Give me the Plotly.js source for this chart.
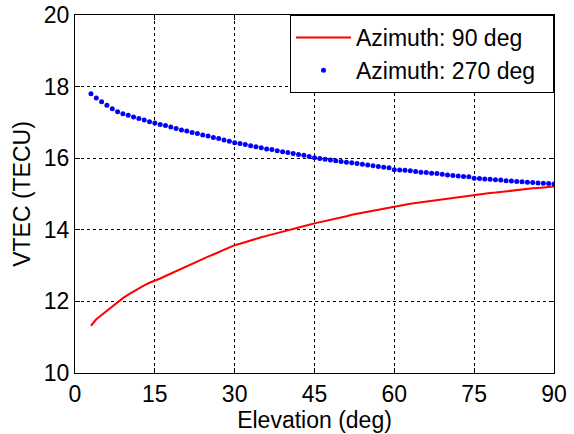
<!DOCTYPE html>
<html>
<head>
<meta charset="utf-8">
<script src="https://cdn.plot.ly/plotly-3.0.1.min.js"></script>
<style>html,body{margin:0;padding:0;background:#fff;}#chart{width:574px;height:434px;}</style>
</head>
<body>
<div id="chart"></div>
<script>
const elevation = [3,4,5,6,7,8,9,10,11,12,13,14,15,16,17,18,19,20,21,22,23,24,25,26,27,28,29,30,31,32,33,34,35,36,37,38,39,40,41,42,43,44,45,46,47,48,49,50,51,52,53,54,55,56,57,58,59,60,61,62,63,64,65,66,67,68,69,70,71,72,73,74,75,76,77,78,79,80,81,82,83,84,85,86,87,88,89,90];
const vtecAz90 = [11.32,11.50,11.62,11.74,11.86,11.98,12.09,12.19,12.28,12.37,12.45,12.52,12.57,12.64,12.71,12.78,12.85,12.92,12.99,13.06,13.12,13.19,13.25,13.31,13.38,13.45,13.51,13.57,13.61,13.66,13.70,13.74,13.79,13.83,13.87,13.92,13.96,14.00,14.03,14.07,14.11,14.14,14.18,14.21,14.25,14.28,14.32,14.35,14.38,14.42,14.45,14.48,14.51,14.54,14.57,14.60,14.63,14.65,14.68,14.70,14.73,14.75,14.77,14.79,14.81,14.84,14.86,14.88,14.90,14.92,14.94,14.96,14.97,14.99,15.01,15.03,15.04,15.06,15.08,15.09,15.11,15.13,15.14,15.16,15.17,15.18,15.19,15.21];
const vtecAz270 = [17.80,17.68,17.58,17.48,17.38,17.30,17.24,17.20,17.15,17.11,17.07,17.02,16.98,16.94,16.91,16.87,16.83,16.79,16.76,16.72,16.69,16.65,16.62,16.58,16.55,16.51,16.47,16.43,16.41,16.38,16.35,16.32,16.29,16.26,16.24,16.21,16.18,16.16,16.13,16.10,16.08,16.05,16.01,15.99,15.97,15.95,15.93,15.91,15.89,15.87,15.85,15.83,15.81,15.79,15.77,15.75,15.73,15.68,15.67,15.66,15.65,15.63,15.61,15.60,15.58,15.57,15.55,15.53,15.52,15.50,15.49,15.48,15.44,15.43,15.42,15.41,15.40,15.39,15.37,15.36,15.35,15.34,15.33,15.32,15.31,15.30,15.29,15.28];
const xTicks = [0,15,30,45,60,75,90];
const yTicks = [10,12,14,16,18,20];
const seriesNames = ['Azimuth: 90 deg', 'Azimuth: 270 deg\u00a0\u00a0'];

const FONT = 'Arial, Liberation Sans, sans-serif';
const traces = [
  {x: elevation, y: vtecAz90, mode: 'lines', name: seriesNames[0],
   line: {color: '#ff0000', width: 2}},
  {x: elevation, y: vtecAz270, mode: 'markers', name: seriesNames[1],
   marker: {color: '#0000ff', size: 5}}
];
const axisCommon = {
  showline: true, linecolor: '#000', linewidth: 1, mirror: 'ticks',
  ticks: 'inside', ticklen: 5, tickcolor: '#000',
  showgrid: true, gridcolor: '#000', gridwidth: 1, griddash: '3px,3px',
  zeroline: false,
  tickfont: {family: FONT, size: 23, color: '#000'}
};
const layout = {
  width: 574, height: 434,
  margin: {l: 75, r: 20, t: 15, b: 61},
  paper_bgcolor: '#fff', plot_bgcolor: '#fff',
  showlegend: true,
  legend: {x: 1, y: 1, xanchor: 'right', yanchor: 'top',
    bgcolor: '#fff', bordercolor: '#000', borderwidth: 1,
    font: {family: FONT, size: 23, color: '#000'},
    tracegroupgap: 0, itemwidth: 55},
  xaxis: Object.assign({}, axisCommon, {range: [0, 90], tickvals: xTicks, ticktext: xTicks.map(String),
    title: {text: 'Elevation (deg)', standoff: 2, font: {family: FONT, size: 23, color: '#000'}}}),
  yaxis: Object.assign({}, axisCommon, {range: [10, 20], tickvals: yTicks, ticktext: yTicks.map(String),
    title: {text: 'VTEC (TECU)', standoff: 6, font: {family: FONT, size: 23, color: '#000'}}})
};
Plotly.newPlot('chart', traces, layout, {displayModeBar: false, staticPlot: true});
</script>
</body>
</html>
